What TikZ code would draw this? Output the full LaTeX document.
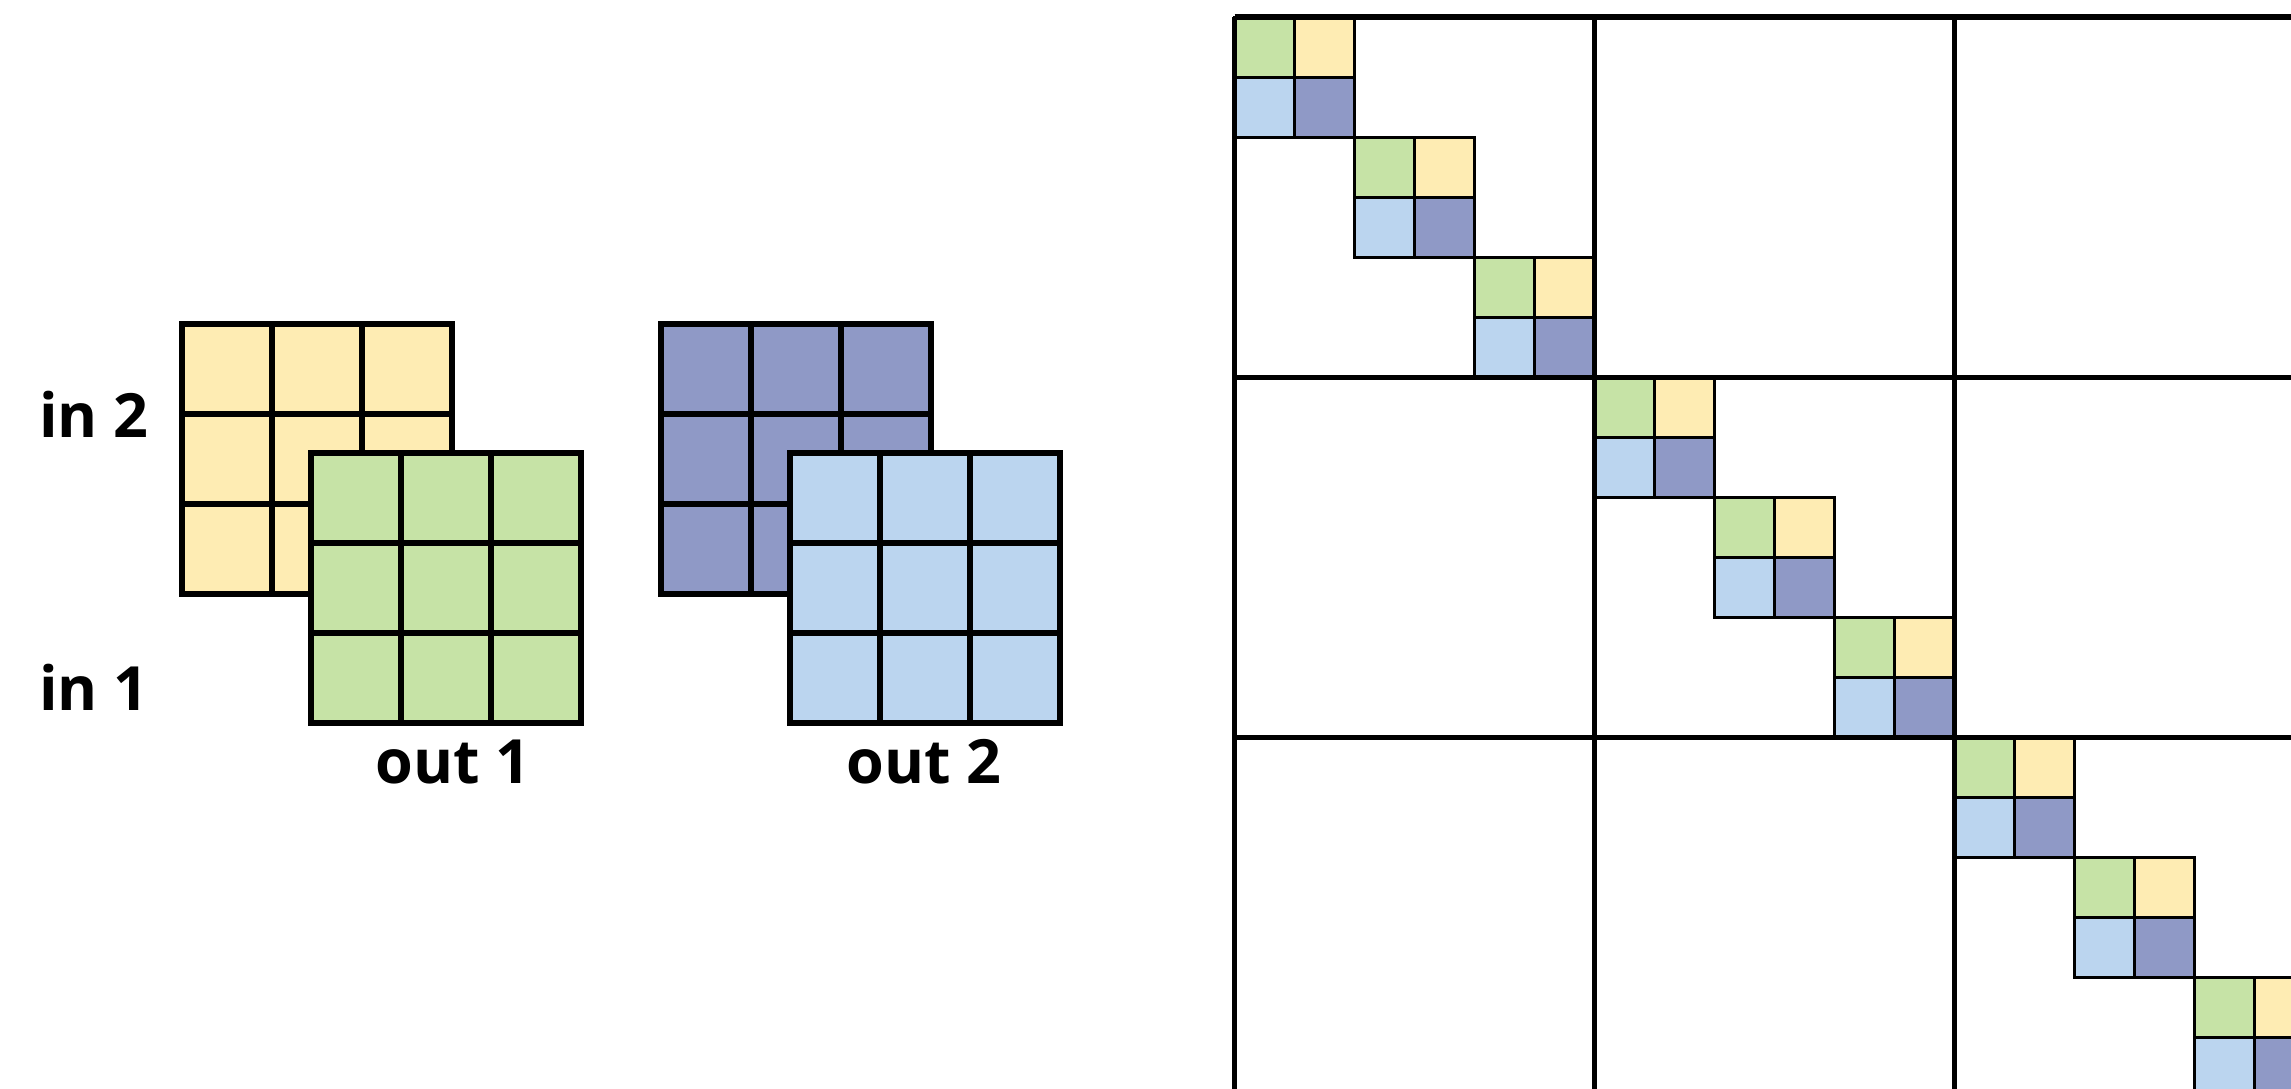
\documentclass[tikz,border=0pt]{standalone}
\usepackage{fontspec}
\setmainfont{Open Sans}
\definecolor{cgreen}{HTML}{C6E3A6}
\definecolor{cyellow}{HTML}{FEECB3}
\definecolor{cblue}{HTML}{BBD5EF}
\definecolor{cpurple}{HTML}{8F99C6}
\newcommand{\mygrid}[3]{%
  \fill[#3] (#1,#2) rectangle ++(270,270);
  \foreach \i in {1,2} {
    \draw[gl] (#1+90*\i,#2) -- ++(0,270);
    \draw[gl] (#1,#2+90*\i) -- ++(270,0);
  }
  \draw[gl] (#1,#2) rectangle ++(270,270);
}
\begin{document}
\begin{tikzpicture}[x=1pt,y=-1pt,
  gl/.style={line width=5.8pt},
  bl/.style={line width=5.6pt},
  cl/.style={line width=3pt},
  lab/.style={font=\fontsize{61}{72}\selectfont\bfseries, inner sep=0pt, anchor=base}]
\useasboundingbox (0,0) rectangle (2291,1089);
\clip (0,0) rectangle (2291,1089);
% left grids
\mygrid{182}{324}{cyellow}
\mygrid{311}{453}{cgreen}
\mygrid{661}{324}{cpurple}
\mygrid{790}{453}{cblue}
% labels
\node[lab] (in2) at (94,437) {in 2};
\node[lab] (in1) at (94,710) {in 1};
\node[lab] (out1) at (453,783) {out 1};
\node[lab] (out2) at (924,783) {out 2};
% big matrix cells
\foreach \b in {0,1,2}{
  \foreach \s in {0,1,2}{
    \pgfmathsetmacro\px{1234.5+360*\b+120*\s}
    \pgfmathsetmacro\py{17.3+360*\b+120*\s}
    \fill[cgreen] (\px,\py) rectangle ++(60,60);
    \fill[cyellow] (\px+60,\py) rectangle ++(60,60);
    \fill[cblue] (\px,\py+60) rectangle ++(60,60);
    \fill[cpurple] (\px+60,\py+60) rectangle ++(60,60);
    \draw[cl] (\px,\py) rectangle ++(120,120);
    \draw[cl] (\px+60,\py) -- ++(0,120);
    \draw[cl] (\px,\py+60) -- ++(120,0);
  }
}
% big matrix block lines
\foreach \k in {0,1,2}{
  \draw[bl] (1234.5+360*\k,17.3) -- (1234.5+360*\k,1100);
  \draw[bl] (1234.5,17.3+360*\k) -- (2300,17.3+360*\k);
}
\end{tikzpicture}
\end{document}
